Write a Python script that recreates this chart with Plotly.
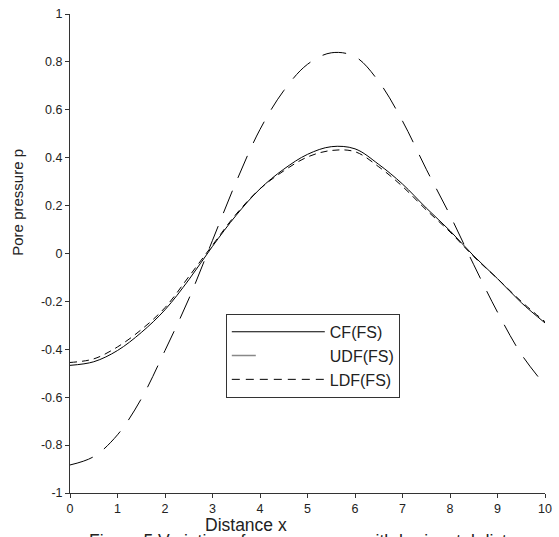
import plotly.graph_objects as go

# Horizontal distance samples
distance = [0, 0.5, 1, 1.5, 2, 2.5, 3, 3.5, 4, 4.5, 5, 5.5, 6, 6.5, 7, 7.5, 8, 8.5, 9, 9.5, 10]

# Pore pressure for the three solutions
cf_fs = [-0.467, -0.452, -0.405, -0.33, -0.235, -0.11, 0.03, 0.16, 0.27, 0.352, 0.414,
         0.446, 0.437, 0.372, 0.29, 0.19, 0.095, -0.01, -0.105, -0.205, -0.29]
udf_fs = [-0.883, -0.848, -0.757, -0.607, -0.405, -0.19, 0.055, 0.30, 0.518, 0.68, 0.79,
          0.838, 0.822, 0.718, 0.553, 0.352, 0.16, -0.047, -0.245, -0.42, -0.55]
ldf_fs = [-0.455, -0.44, -0.39, -0.318, -0.226, -0.097, 0.035, 0.165, 0.27, 0.345, 0.403,
          0.43, 0.425, 0.362, 0.28, 0.182, 0.09, -0.013, -0.105, -0.2, -0.285]

x_ticks = [0, 1, 2, 3, 4, 5, 6, 7, 8, 9, 10]
y_ticks = [-1, -0.8, -0.6, -0.4, -0.2, 0, 0.2, 0.4, 0.6, 0.8, 1]
y_tick_text = ["-1", "-0.8", "-0.6", "-0.4", "-0.2", "0", "0.2", "0.4", "0.6", "0.8", "1"]

FONT = "Liberation Sans, Arial, sans-serif"
INK = "#222222"

fig = go.Figure()

series = [
    ("CF(FS)", cf_fs, "solid", "black"),
    ("UDF(FS)", udf_fs, "24px,14px", "black"),
    ("LDF(FS)", ldf_fs, "7px,5px", "black"),
]
for name, vals, dash, col in series:
    fig.add_trace(go.Scatter(
        x=distance, y=vals, mode="lines", name=name, showlegend=False,
        line=dict(color=col, width=1, dash=dash, shape="spline", smoothing=1.0),
    ))

# Legend entries
legend_styles = [
    ("CF(FS)", "solid", "black", 1),
    ("UDF(FS)", "24px,200px", "#888888", 1.5),
    ("LDF(FS)", "8px,6px", "black", 1),
]
for name, dash, col, w in legend_styles:
    fig.add_trace(go.Scatter(
        x=[None], y=[None], mode="lines", name=name,
        line=dict(color=col, width=w, dash=dash),
    ))

fig.update_layout(
    width=559, height=537,
    margin=dict(l=70, r=7, t=10, b=44),
    paper_bgcolor="white", plot_bgcolor="white",
    font=dict(family=FONT, size=12, color=INK),
    showlegend=True,
    legend=dict(
        x=0.328, y=0.374, xanchor="left", yanchor="top",
        bordercolor="#333333", borderwidth=1, bgcolor="white",
        font=dict(size=16, color=INK), itemwidth=93, tracegroupgap=0,
    ),
    xaxis=dict(
        range=[0, 10], tickvals=x_ticks, showgrid=False, zeroline=False,
        showline=True, linecolor="#333333", linewidth=1,
        ticks="outside", ticklen=4, tickcolor="#333333",
        tickfont=dict(size=12.5, color=INK), fixedrange=True,
    ),
    yaxis=dict(
        range=[-1, 1], tickvals=y_ticks, ticktext=y_tick_text, showgrid=False, zeroline=False,
        showline=True, linecolor="#333333", linewidth=1,
        ticks="outside", ticklen=4, tickcolor="#333333",
        tickfont=dict(size=12.5, color=INK), fixedrange=True,
    ),
    annotations=[
        dict(text="Pore pressure p", xref="paper", yref="paper", x=0, y=0.606,
             xshift=-52, xanchor="center", yanchor="middle", textangle=-90,
             showarrow=False, font=dict(size=15, color=INK)),
        dict(text="Distance x", xref="paper", yref="paper", x=0.371, y=0,
             yshift=-32, xanchor="center", yanchor="middle",
             showarrow=False, font=dict(size=17.5, color=INK)),
        dict(text="Figure 5 Variation of pore pressure with horizontal distance",
             xref="paper", yref="paper", x=0.52, y=0, yshift=-48,
             xanchor="center", yanchor="middle",
             showarrow=False, font=dict(size=17.5, color=INK)),
    ],
)

fig.write_html("out.html")
